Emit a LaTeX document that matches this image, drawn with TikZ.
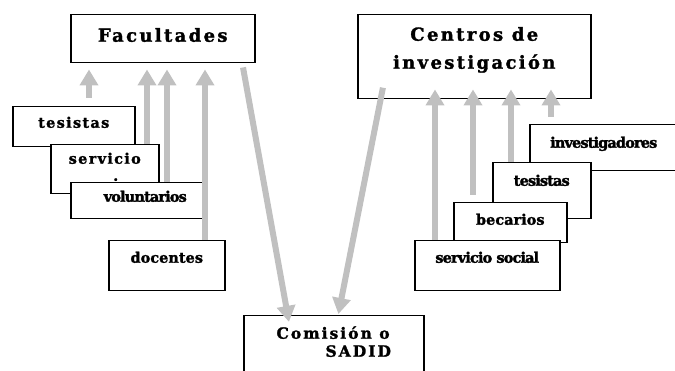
\documentclass[tikz,border=0pt]{standalone}
\usepackage{fontspec}
\setmainfont{DejaVu Serif}
\newfontfamily\fuentetitulo[LetterSpace=13,FakeBold=1.5]{DejaVu Serif}
\newfontfamily\fuenteancha[LetterSpace=9,FakeBold=1.5]{DejaVu Serif}
\newfontfamily\fuenteestrecha[LetterSpace=-6,FakeBold=2]{DejaVu Serif}
\newfontfamily\fuentellana[FakeBold=1.5]{DejaVu Serif}
\usetikzlibrary{arrows.meta}
\usetikzlibrary{calc}
\definecolor{gris}{RGB}{192,192,192}
\tikzstyle{caja} = [draw, line width=1.5pt, fill=white, inner sep=0pt, anchor=north west]
\tikzstyle{flecha} = [draw=gris, line width=6pt, -{Triangle[length=16pt,width=18pt]}]
\newcommand{\titulo}{\fuentetitulo\bfseries\fontsize{18}{28}\selectfont}
\newcommand{\comision}{\fuentetitulo\bfseries\fontsize{15.5}{18}\selectfont}
\newcommand{\ancha}{\fuenteancha\bfseries\fontsize{14.5}{17}\selectfont}
\newcommand{\estrecha}{\fuenteestrecha\bfseries\fontsize{14.5}{17}\selectfont}
\newcommand{\llana}{\fuentellana\bfseries\fontsize{14.5}{17}\selectfont}

\begin{document}
\begin{tikzpicture}[x=1pt, y=-1pt]
    \useasboundingbox (0,0) rectangle (675,371);
    \clip (0,0) rectangle (675,371);
    \node [caja, minimum width=184pt, text height=27pt, text depth=21pt] at (70,14) (fac) {\titulo Facultades};
    \node [caja, minimum width=233pt, text height=26pt, text depth=58pt] at (357,14) (cen) {\titulo\begin{tabular}[t]{@{}c@{}}Centros de\\investigación\end{tabular}};
    \node [caja, minimum width=122pt, text height=21pt, text depth=19pt] at (12,106) (tesL) {\ancha tesistas};
    \node [caja, minimum width=108pt, text height=19pt, text depth=30pt] at (50,144) (servL) {\ancha\begin{tabular}[t]{@{}c@{}}servicio\\\hspace*{22pt}.\end{tabular}};
    \node [caja, minimum width=133pt, text height=19pt, text depth=17pt] at (70,182) (volL) {\estrecha\hspace*{16pt}voluntarios};
    \node [caja, minimum width=116pt, text height=22pt, text depth=28pt] at (108,240) (docL) {\llana docentes};
    \node [caja, minimum width=148pt, text height=23pt, text depth=23pt] at (529,124) (inv) {\estrecha investigadores};
    \node [caja, minimum width=98pt, text height=23pt, text depth=33pt] at (492,162) (tesR) {\estrecha tesistas};
    \node [caja, minimum width=113pt, text height=22pt, text depth=18pt] at (453,202) (bec) {\llana becarios};
    \node [caja, minimum width=145pt, text height=22pt, text depth=28pt] at (414,240) (serv) {\estrecha servicio social};
    \node [caja, minimum width=180pt, text height=23pt, text depth=62pt] at (243,315) (com) {\comision\begin{tabular}[t]{@{}l@{}}Comisión o\\\hspace*{49pt}SADID\end{tabular}};
    \draw [flecha, shorten <=8pt, shorten >=6pt] (tesL.north -| 89,0) -- (fac.south -| 89,0);
    \draw [flecha, shorten >=6pt] (servL.north -| 147,0) -- (fac.south -| 147,0);
    \draw [flecha, shorten >=6pt] (volL.north -| 167,0) -- (fac.south -| 167,0);
    \draw [flecha, shorten >=6pt] (docL.north -| 205,0) -- (fac.south -| 205,0);
    \draw [flecha, shorten >=-10pt] (serv.north -| 435,0) -- (cen.south -| 435,0);
    \draw [flecha, shorten <=7pt, shorten >=-10pt] (bec.north -| 473,0) -- (cen.south -| 473,0);
    \draw [flecha, shorten >=-10pt] (tesR.north -| 511,0) -- (cen.south -| 511,0);
    \draw [flecha, shorten <=7pt, shorten >=-10pt] (inv.north -| 551,0) -- (cen.south -| 551,0);
    \draw [flecha, shorten <=4pt, shorten >=-7pt] (fac.south -| 242.3,0) -- (com.north -| 287.7,0);
    \draw [flecha, shorten <=-12pt, shorten >=1pt] (cen.south -| 380.6,0) -- (com.north -| 338.2,0);
\end{tikzpicture}
\end{document}
